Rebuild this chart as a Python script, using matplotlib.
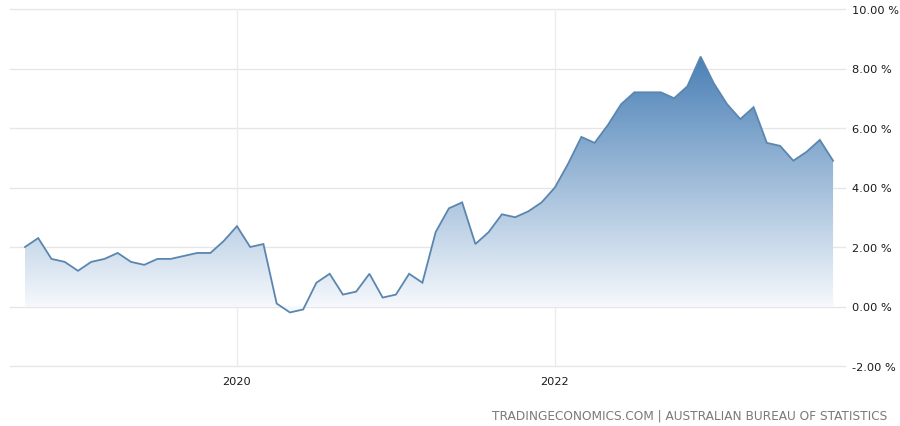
import numpy as np
import matplotlib
matplotlib.use("Agg")
import matplotlib.pyplot as plt
from matplotlib.colors import LinearSegmentedColormap

# monthly inflation rate (%), Sep 2018 .. Oct 2023
values = [2.0, 2.3, 1.6, 1.5,
          1.2, 1.5, 1.6, 1.8, 1.5, 1.4, 1.6, 1.6, 1.7, 1.8, 1.8, 2.2,
          2.7, 2.0, 2.1, 0.1, -0.2, -0.1, 0.8, 1.1, 0.4, 0.5, 1.1, 0.3,
          0.4, 1.1, 0.8, 2.5, 3.3, 3.5, 2.1, 2.5, 3.1, 3.0, 3.2, 3.5,
          4.0, 4.8, 5.7, 5.5, 6.1, 6.8, 7.2, 7.2, 7.2, 7.0, 7.4, 8.4,
          7.5, 6.8, 6.3, 6.7, 5.5, 5.4, 4.9, 5.2, 5.6, 4.9]
start_year, start_month = 2018, 9
year_ticks = [2020, 2022]
y_ticks = [-2, 0, 2, 4, 6, 8, 10]

months = np.arange(len(values))
vals = np.array(values)

fig = plt.figure(figsize=(9, 4.27), dpi=100)
ax = fig.add_axes([10 / 900, 1 - 367 / 427, 835 / 900, 357 / 427])

# gradient fill under the line, clipped to the area polygon
cmap = LinearSegmentedColormap.from_list("te", ["#f5f8fc", "#4a80b6"])
poly = ax.fill_between(months, vals, 0, color="none", lw=0)
grad = np.linspace(0, 1, 256).reshape(-1, 1)
img = ax.imshow(grad, cmap=cmap, origin="lower", aspect="auto",
                extent=[months[0], months[-1], 0, vals.max()], zorder=1)
path = poly.get_paths()[0]
img.set_clip_path(path, transform=ax.transData)
img2 = ax.imshow(np.zeros((2, 1)), cmap=cmap, vmin=0, vmax=1, origin="lower",
                 aspect="auto", extent=[months[0], months[-1], vals.min(), 0], zorder=1)
img2.set_clip_path(path, transform=ax.transData)

ax.plot(months, vals, color="#5a86b0", lw=1.3, zorder=3, solid_joinstyle="miter")

ax.set_xlim(-1.13, 61.9)
ax.set_ylim(-2, 10)

# grid
for v in y_ticks:
    ax.axhline(v, color="#e6e6e6", lw=1, zorder=0, clip_on=False)
xt = [(y - start_year) * 12 + (1 - start_month) for y in year_ticks]
for x in xt:
    ax.axvline(x, color="#ececec", lw=1, zorder=0)

for s in ax.spines.values():
    s.set_visible(False)
ax.set_xticks(xt)
ax.set_xticklabels([str(y) for y in year_ticks])
ax.set_yticks(y_ticks)
ax.set_yticklabels(["%.2f %%" % v for v in y_ticks])
ax.yaxis.tick_right()
ax.tick_params(axis="both", length=0, labelsize=8.2, colors="#1a1a1a")
ax.tick_params(axis="y", pad=5)
ax.tick_params(axis="x", pad=7)

fig.text(887 / 900, 1 - 416 / 427, "TRADINGECONOMICS.COM | AUSTRALIAN BUREAU OF STATISTICS",
         ha="right", va="center", fontsize=9.7, color="#7a7a7a",
         family=["DejaVu Sans"], fontstretch="condensed")

fig.savefig("out.png", dpi=100)
